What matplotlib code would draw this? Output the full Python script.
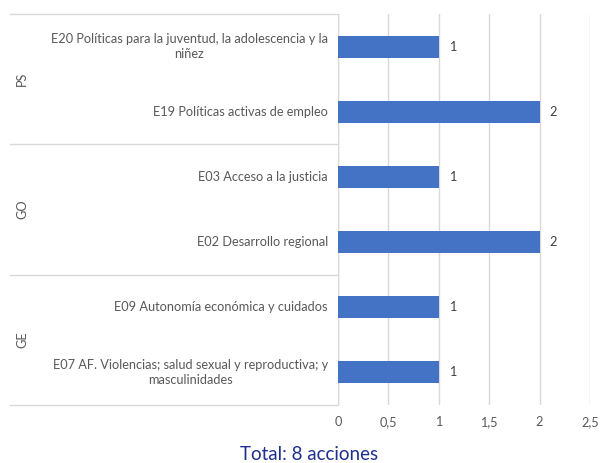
import matplotlib
matplotlib.use("Agg")
import matplotlib.pyplot as plt
from matplotlib.lines import Line2D

categories = [
    "E20 Políticas para la juventud, la adolescencia y la\nniñez",
    "E19 Políticas activas de empleo",
    "E03 Acceso a la justicia",
    "E02 Desarrollo regional",
    "E09 Autonomía económica y cuidados",
    "E07 AF. Violencias; salud sexual y reproductiva; y\nmasculinidades",
]
values = [1, 2, 1, 2, 1, 1]
groups = ["PS", "GO", "GE"]
group_sizes = [2, 2, 2]
xticks = [0, 0.5, 1, 1.5, 2, 2.5]
xtick_labels = ["0", "0,5", "1", "1,5", "2", "2,5"]
total_text = "Total: 8 acciones"

plt.rcParams['font.family'] = ['Lato', 'DejaVu Sans']
W, H = 601, 463
fig = plt.figure(figsize=(W / 100, H / 100), dpi=100)
L, R, T, B = 338, 590, 14, 405
ax = fig.add_axes([L / W, 1 - B / H, (R - L) / W, (B - T) / H])

text_col = "#595959"
grid_col = "#D9D9D9"
bar_col = "#4472C4"
fs = 9.2

ypos = list(range(len(categories)))
ax.barh(ypos, values, height=0.34, color=bar_col, zorder=3)
ax.set_xlim(0, 2.5)
ax.set_ylim(len(categories) - 0.5, -0.5)
ax.set_xticks(xticks)
ax.set_xticklabels(xtick_labels, color=text_col, fontsize=fs)
ax.xaxis.grid(True, color=grid_col, linewidth=1, zorder=0)
ax.tick_params(axis='x', length=0, pad=8)
ax.set_yticks([])
for s in ax.spines.values():
    s.set_visible(False)
ax.axvline(0, color=grid_col, linewidth=1, zorder=1)

for y, v in zip(ypos, values):
    ax.text(v + 0.1, y, str(v), va='center', ha='left', color="#404040", fontsize=fs)

for y, c in zip(ypos, categories):
    ax.text(-0.1, y, c, va='center', ha='right', multialignment='center',
            color=text_col, fontsize=fs, linespacing=1.25)

x_left = (10 - L) / (R - L)
trans = ax.get_yaxis_transform()
start = -0.5
for g, n in zip(groups, group_sizes):
    ax.add_line(Line2D([x_left, 0], [start, start], transform=trans, color=grid_col,
                       linewidth=1, clip_on=False))
    mid = start + n / 2
    ax.text((22 - L) / (R - L), mid, g, transform=trans, rotation=90, va='center',
            ha='center', color=text_col, fontsize=fs)
    start += n
ax.add_line(Line2D([x_left, 0], [start, start], transform=trans, color=grid_col,
                   linewidth=1, clip_on=False))

fig.text(309 / W, 1 - 454 / H, total_text, ha='center', va='center',
         color="#1F2F8F", fontsize=13.5)

fig.savefig("out.png", dpi=100)
